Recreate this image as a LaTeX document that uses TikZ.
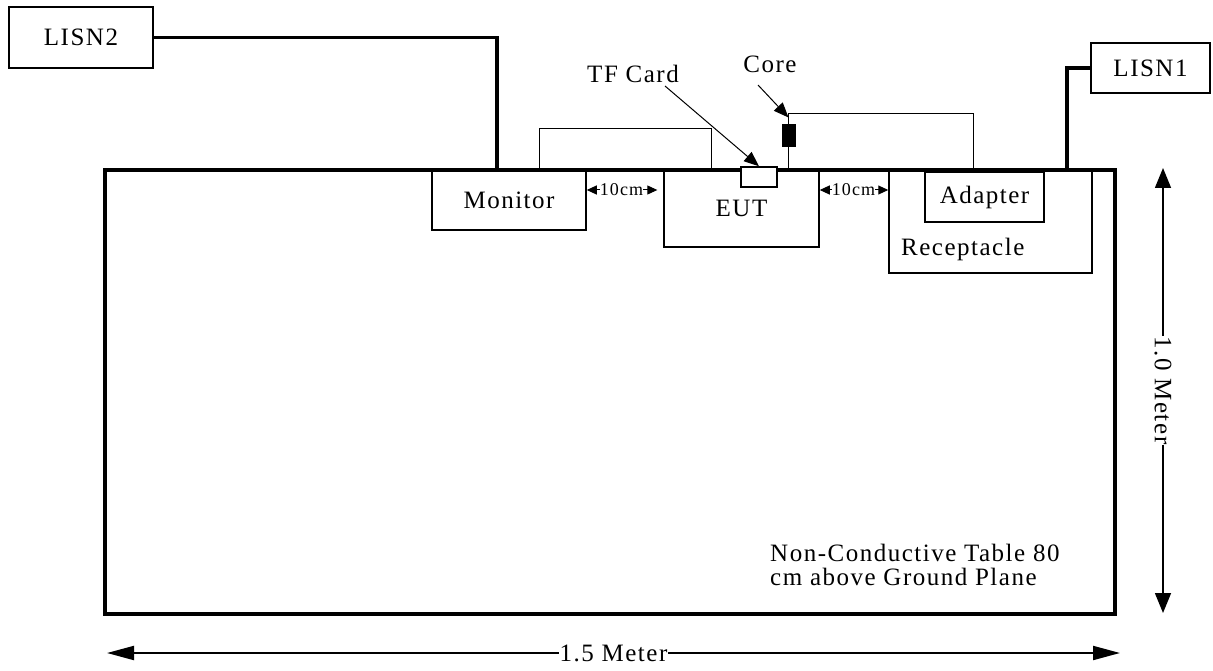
\documentclass[tikz,border=0pt]{standalone}
\usepackage{fontspec}
\setmainfont{Liberation Serif}[LetterSpace=6]
\usetikzlibrary{arrows.meta,calc}
\begin{document}
\begin{tikzpicture}[x=1pt,y=-1pt,
  box/.style={draw,line width=1.5pt,inner sep=0pt,font=\fontsize{25}{24}\selectfont},
  lbl/.style={inner sep=0pt,font=\fontsize{25}{24}\selectfont},
  small/.style={inner sep=0pt,font=\fontsize{18}{18}\selectfont},
  power/.style={line width=3.2pt},
  sig/.style={line width=1pt},
  ptr/.style={line width=1pt,-{Triangle[length=15pt,width=12pt]}},
  tick/.style={line width=1pt,-{Triangle[length=10pt,width=9pt]}},
  dimh/.style={line width=2pt,{Triangle[length=27pt,width=14pt]}-{Triangle[length=27pt,width=14pt]}},
  dimv/.style={line width=1.5pt,{Triangle[length=20pt,width=16pt]}-{Triangle[length=20pt,width=16pt]}},
]
\useasboundingbox (0,0) rectangle (1213,671);

% boxes
\node[box,minimum width=144pt,minimum height=61pt] (lisn2) at (81,37.5) {LISN2};
\node[box,minimum width=119pt,minimum height=50pt] (lisn1) at (1150.5,68) {LISN1};
\node[box,minimum width=154pt,minimum height=60pt] (monitor) at (509,200) {Monitor};
\node[box,minimum width=155pt,minimum height=77pt] (eut) at (741.5,208.5) {EUT};
\node[box,minimum width=203pt,minimum height=103pt] (recept) at (990.5,221.5) {};
\node[box,minimum width=119pt,minimum height=50pt] (adapter) at (984.5,197) {Adapter};
\node[lbl,anchor=west] (receptlbl) at (901,249) {Receptacle};

% table
\node[draw,line width=3.2pt,minimum width=1010pt,minimum height=444pt,inner sep=0pt] (table) at (610,392) {};
\node[lbl,anchor=west,align=left] (tabletext) at (770,565) {Non-Conductive Table 80\\cm above Ground Plane};

% TF card and core
\node[box,fill=white,minimum width=36pt,minimum height=20pt] (tf) at (759,177) {};
\node[draw,fill=black,line width=1pt,minimum width=13pt,minimum height=22pt,inner sep=0pt] (core) at (788.5,136) {};

% labels
\node[lbl] (tflbl) at (633,74) {TF Card};
\node[lbl] (corelbl) at (770,64) {Core};

% cables
\draw[power] (lisn2.east) -| ([xshift=-12pt]monitor.north);
\draw[power] (lisn1.west) -| ([xshift=76.5pt]recept.north);
\draw[sig] ([xshift=30pt]monitor.north) -- ++(0,-41) -| ([xshift=-30.5pt]eut.north);
\draw[sig] (core.south) -- (core.south |- eut.north);
\draw[sig] (core.north) -- ++(0,-11) -| ([xshift=-11.5pt]adapter.north);

% pointers
\coordinate (tfs) at (665,86);
\draw[ptr] (tfs) -- (tf.north);
\coordinate (cs) at (758,85);
\draw[ptr] (cs) -- ([yshift=7pt]core.north);

% 10cm spacing marks
\node[small] (d1) at (621.5,190) {10cm};
\draw[tick] (d1.west) -- (monitor.east |- d1.west);
\draw[tick] (d1.east) -- ++(14,0);
\node[small] (d2) at (853.5,190) {10cm};
\draw[tick] (d2.west) -- (eut.east |- d2.west);
\draw[tick] (d2.east) -- (recept.west |- d2.east);

% dimensions
\coordinate (hl) at (107,653);
\coordinate (hr) at (1120,653);
\draw[dimh] (hl) -- (hr) node[midway,fill=white,lbl,inner sep=1pt] (hlabel) {1.5 Meter};
\coordinate (vt) at (1163,168);
\coordinate (vb) at (1163,613);
\draw[dimv] (vt) -- (vb) node[midway,fill=white,lbl,rotate=-90,inner sep=1pt] (vlabel) {1.0 Meter};
\end{tikzpicture}
\end{document}
